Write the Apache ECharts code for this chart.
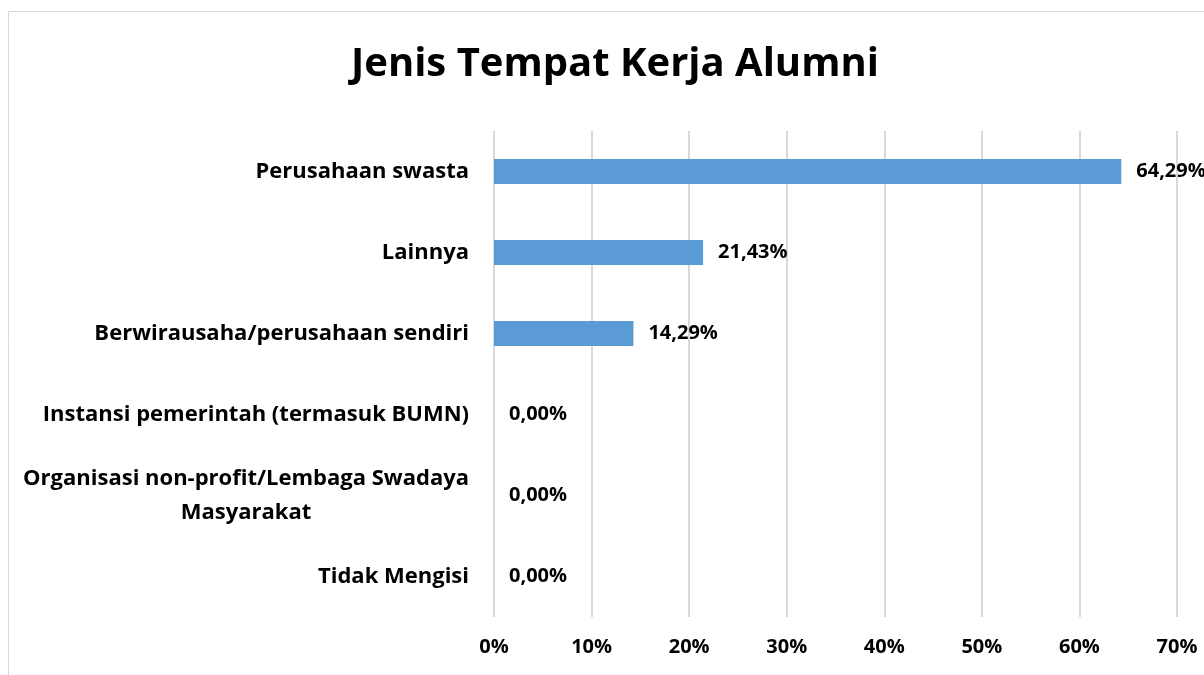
<!DOCTYPE html>
<html>
<head>
<meta charset="utf-8">
<script src="https://cdn.jsdelivr.net/npm/echarts@6/dist/echarts.min.js"></script>
<style>
  html, body { margin: 0; padding: 0; background: #fff; }
  #main { width: 1204px; height: 675px; }
</style>
</head>
<body>
<div id="main"></div>
<script>
const categories = [
  'Perusahaan swasta',
  'Lainnya',
  'Berwirausaha/perusahaan sendiri',
  'Instansi pemerintah (termasuk BUMN)',
  'Organisasi non-profit/Lembaga Swadaya\nMasyarakat',
  'Tidak Mengisi'
]
const values = [64.29, 21.43, 14.29, 0, 0, 0]
const tickMax = 70

const font = '"Open Sans", sans-serif'
const chart = echarts.init(document.getElementById('main'))

chart.setOption({
  backgroundColor: '#fff',
  animation: false,
  title: {
    text: 'Jenis Tempat Kerja Alumni',
    left: 346,
    top: 40,
    textStyle: { fontFamily: font, fontSize: 40, fontWeight: 'bold', color: '#000' }
  },
  graphic: [{
    type: 'rect',
    shape: { x: 8.5, y: 11.5, width: 1210, height: 680 },
    style: { fill: 'none', stroke: '#d9d9d9', lineWidth: 1 },
    silent: true
  }],
  grid: { left: 494, right: 27, top: 131, bottom: 58 },
  xAxis: {
    type: 'value',
    min: 0,
    max: tickMax,
    interval: 10,
    axisLine: { show: false },
    axisTick: { show: false },
    splitLine: { lineStyle: { color: '#d9d9d9', width: 2 } },
    axisLabel: {
      formatter: '{value}%',
      margin: 20,
      color: '#000',
      fontFamily: font,
      fontWeight: 'bold',
      fontSize: 20
    }
  },
  yAxis: {
    type: 'category',
    inverse: true,
    data: categories,
    axisLine: { show: false },
    axisTick: { show: false },
    axisLabel: {
      margin: 25,
      color: '#000',
      fontFamily: font,
      fontWeight: 'bold',
      fontSize: 22,
      lineHeight: 34,
      formatter: function (v) {
        if (v.indexOf('\n') >= 0) {
          return v.split('\n').map(s => '{c|' + s + '}').join('\n')
        }
        return v
      },
      rich: {
        c: { align: 'center', fontFamily: font, fontWeight: 'bold', fontSize: 22, color: '#000', lineHeight: 34 }
      }
    }
  },
  series: [{
    type: 'bar',
    data: values,
    barWidth: 25,
    itemStyle: { color: '#5b9bd5' },
    label: {
      show: true,
      position: 'right',
      distance: 15,
      color: '#000',
      fontFamily: font,
      fontWeight: 'bold',
      fontSize: 20,
      formatter: p => p.value.toFixed(2).replace('.', ',') + '%'
    }
  }]
})
</script>
</body>
</html>
